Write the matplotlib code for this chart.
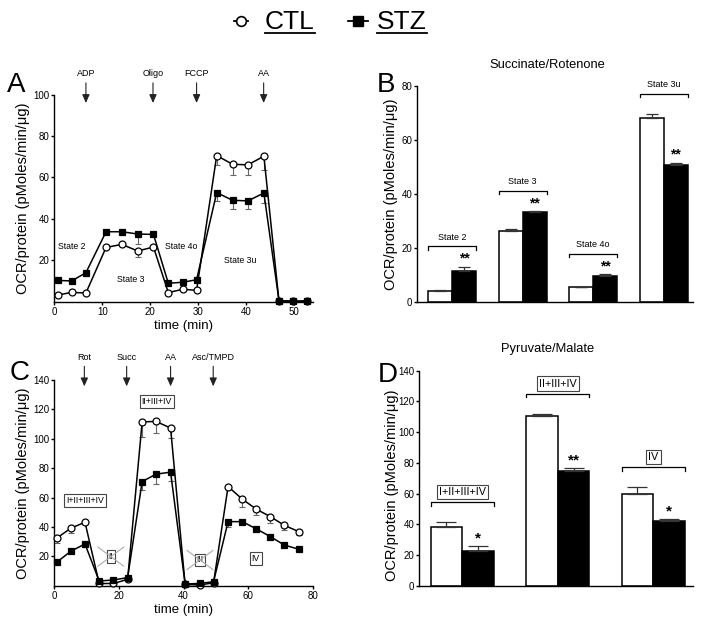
import numpy as np
import matplotlib
matplotlib.use('Agg')
import matplotlib.pyplot as plt
from matplotlib.lines import Line2D

plt.rcParams['font.family'] = ['Liberation Sans', 'DejaVu Sans']

# A: succinate/rotenone time course
a_time = [0.7, 3.6, 6.6, 10.8, 14.1, 17.4, 20.7, 23.8, 26.8, 29.7,
          33.9, 37.2, 40.4, 43.75, 46.9, 49.8, 52.7]
a_ctl = [3.2, 4.5, 4.2, 26.2, 27.7, 24.5, 26.4, 4.4, 6.0, 5.5,
         70.6, 66.4, 66.1, 70.3, 0.3, 0.2, 0.2]
a_ctl_err = [0, 0, 0, 0, 0.5, 3.0, 0, 0, 0, 0, 4.5, 5.0, 5.0, 6.5, 0, 0, 0]
a_stz = [10.3, 10.0, 14.0, 33.8, 33.8, 32.7, 32.5, 8.9, 9.4, 10.6,
         52.7, 49.0, 48.7, 52.5, 0.5, 0.3, 0.4]
a_stz_err = [0, 0, 1.5, 0, 0, 4.7, 0, 0, 0, 0, 4.0, 4.0, 4.0, 5.0, 0, 0, 0]
a_inject = ['ADP', 'Oligo', 'FCCP', 'AA']
a_inject_time = [6.6, 20.6, 29.7, 43.7]

# B: succinate/rotenone states
b_groups = ['State 2', 'State 3', 'State 4o', 'State 3u']
b_ctl = [4.2, 26.5, 5.5, 68.3]
b_ctl_err = [0.2, 0.5, 0.3, 1.2]
b_stz = [11.7, 33.4, 9.85, 50.7]
b_stz_err = [1.5, 0.3, 0.5, 1.0]
b_sig = ['**', '**', '**', '**']

# C: pyruvate/malate time course
c_time = [0.7, 5.1, 9.5, 13.9, 18.3, 22.7, 27.2, 31.5, 36.0, 40.5,
          45.1, 49.3, 53.8, 58.2, 62.6, 66.9, 71.2, 75.7]
c_ctl = [32.3, 39.1, 43.2, 1.5, 1.5, 4.3, 111.5, 111.8, 107.3, 0.9,
         0.5, 2.0, 67.5, 58.9, 52.0, 47.0, 41.1, 36.8]
c_ctl_err = [3, 3.5, 1, 0, 0, 0, 10, 8, 7, 0, 0, 0, 1, 5, 4, 4.5, 3, 2]
c_stz = [15.9, 23.4, 28.4, 3.2, 3.9, 5.5, 70.9, 75.9, 77.3, 1.1,
         1.6, 2.7, 43.6, 43.6, 38.6, 33.4, 27.7, 24.8]
c_stz_err = [0, 0, 0, 0, 0, 0, 6, 6.5, 6, 0, 0, 0, 3.5, 1, 1, 1, 0, 0]
c_inject = ['Rot', 'Succ', 'AA', 'Asc/TMPD']
c_inject_time = [9.3, 22.4, 36.0, 49.2]

# D: pyruvate/malate complexes
d_groups = ['I+II+III+IV', 'II+III+IV', 'IV']
d_ctl = [38.5, 110.4, 59.8]
d_ctl_err = [3.0, 1.6, 4.5]
d_stz = [22.6, 75.0, 42.2]
d_stz_err = [3.5, 1.7, 1.3]
d_sig = ['*', '**', '*']

W, H = 703, 628
fig = plt.figure(figsize=(W / 100, H / 100), dpi=100)
ylab = 'OCR/protein (pMoles/min/\u03bcg)'


def px_axes(left, top, right, bottom):
    return fig.add_axes([left / W, 1 - bottom / H, (right - left) / W, (bottom - top) / H])


def style(ax):
    for s in ['top', 'right']:
        ax.spines[s].set_visible(False)
    for s in ['left', 'bottom']:
        ax.spines[s].set_linewidth(1.0)
    ax.tick_params(direction='out', length=2.5, width=1, labelsize=7, pad=1.2)


def trace(ax, t, y, err, marker, face, size):
    ax.errorbar(t, y, yerr=[err, np.zeros(len(err))], fmt='none', ecolor='#666',
                elinewidth=0.8, capsize=2.2, capthick=0.8, zorder=2)
    ax.plot(t, y, color='black', lw=1.1, marker=marker, ms=size, mfc=face,
            mec='black', mew=0.9, zorder=3, clip_on=False)


def arrows(ax, xs, names, y0, y1, ytxt):
    for x, n in zip(xs, names):
        ax.annotate('', xy=(x, y1), xytext=(x, y0), annotation_clip=False,
                    arrowprops=dict(arrowstyle='-|>,head_length=0.5,head_width=0.22',
                                    color='#222', lw=0.8, shrinkA=0, shrinkB=0))
        ax.text(x, ytxt, n, ha='center', va='center', fontsize=6.5, clip_on=False)


def bars(ax, groups, ctl, ctl_err, stz, stz_err, sig, w, cap, gap, tick,
         lab_gap, boxed, lab_size, star_size):
    x = np.arange(len(groups))
    z = np.zeros(len(groups))
    ekw = dict(elinewidth=0.9, capthick=0.9, ecolor='#333')
    ax.bar(x - w / 2, ctl, w, color='white', edgecolor='black', lw=1.1,
           yerr=[z, ctl_err], capsize=cap, error_kw=ekw)
    ax.bar(x + w / 2, stz, w, color='black', edgecolor='black', lw=1.1,
           yerr=[z, stz_err], capsize=cap, error_kw=ekw)
    for i in range(len(groups)):
        top = max(ctl[i] + ctl_err[i], stz[i] + stz_err[i])
        yb = top + gap
        xl, xr = x[i] - w, x[i] + w
        ax.plot([xl, xl, xr, xr], [yb - tick, yb, yb, yb - tick], color='black',
                lw=0.9, clip_on=False)
        box = dict(boxstyle='square,pad=0.2', fc='white', ec='#444', lw=0.8) if boxed else None
        ax.text(x[i], yb + lab_gap, groups[i], ha='center', va='center',
                fontsize=lab_size, bbox=box, clip_on=False)
        ax.annotate(sig[i], xy=(x[i] + w / 2, stz[i] + stz_err[i]), xytext=(0, 0.5),
                    textcoords='offset points', ha='center', va='bottom',
                    fontsize=star_size, fontweight='bold')
    ax.set_xticks([])


# panel A
ax = px_axes(54.3, 94.7, 313, 301.7)
style(ax)
trace(ax, a_time, a_ctl, a_ctl_err, 'o', 'white', 5)
trace(ax, a_time, a_stz, a_stz_err, 's', 'black', 4.5)
ax.set_xlim(0, 54)
ax.set_ylim(0, 100)
ax.set_xticks(range(0, 51, 10))
ax.set_yticks(range(20, 101, 20))
ax.set_xlabel('time (min)', fontsize=9.5, labelpad=2.5)
ax.set_ylabel(ylab, fontsize=10.5)
ax.yaxis.set_label_coords(-0.094, 0.5)
arrows(ax, a_inject_time, a_inject, 105.7, 96, 110)
for txt, x, y in [('State 2', 3.6, 26.8), ('State 3', 15.9, 10.9),
                  ('State 4o', 26.5, 26.8), ('State 3u', 38.7, 20)]:
    ax.text(x, y, txt, ha='center', va='center', fontsize=6.3)

# panel B
ax = px_axes(417.3, 86, 693.3, 302.3)
style(ax)
bars(ax, b_groups, b_ctl, b_ctl_err, b_stz, b_stz_err, b_sig, 0.34, 4, 7.5, 1.2,
     3.4, False, 6.5, 10)
ax.set_xlim(-0.495, 3.42)
ax.set_ylim(0, 80)
ax.set_yticks(range(0, 81, 20))
ax.set_ylabel(ylab, fontsize=10.5)
ax.yaxis.set_label_coords(-0.07, 0.5)

# panel C
ax = px_axes(54.3, 380, 312.7, 585.7)
style(ax)
trace(ax, c_time, c_ctl, c_ctl_err, 'o', 'white', 5)
trace(ax, c_time, c_stz, c_stz_err, 's', 'black', 4.5)
ax.set_xlim(0, 80)
ax.set_ylim(0, 140)
ax.set_xticks(range(0, 81, 20))
ax.set_yticks(range(20, 141, 20))
ax.set_xlabel('time (min)', fontsize=9.5, labelpad=2.5)
ax.set_ylabel(ylab, fontsize=10.5)
ax.yaxis.set_label_coords(-0.094, 0.5)
arrows(ax, c_inject_time, c_inject, 149.3, 135.7, 155.4)
box = dict(boxstyle='square,pad=0.2', fc='white', ec='#444', lw=0.8)
for txt, x, y, crossed in [('I+II+III+IV', 9.5, 58, False), ('II+III+IV', 31.7, 125.5, False),
                           ('II', 17.5, 19.8, True), ('III', 45.1, 17.5, True),
                           ('IV', 62.4, 18.6, False)]:
    ax.text(x, y, txt, ha='center', va='center', fontsize=6.3, bbox=box, zorder=4)
    if crossed:
        ax.plot([x - 4, x + 4], [y - 6.5, y + 6.5], color='#aaa', lw=0.8, zorder=5)
        ax.plot([x - 4, x + 4], [y + 6.5, y - 6.5], color='#aaa', lw=0.8, zorder=5)

# panel D
ax = px_axes(419.3, 370.7, 693, 586)
style(ax)
bars(ax, d_groups, d_ctl, d_ctl_err, d_stz, d_stz_err, d_sig, 0.332, 7, 13, 2.2,
     6.6, True, 7.8, 11)
ax.set_xlim(-0.45, 2.416)
ax.set_ylim(0, 140)
ax.set_yticks(range(0, 141, 20))
ax.set_ylabel(ylab, fontsize=10.5)
ax.yaxis.set_label_coords(-0.074, 0.47)

# titles and panel letters
fig.text(547 / W, 1 - 65 / H, 'Succinate/Rotenone', ha='center', va='center', fontsize=9.3)
fig.text(547.5 / W, 1 - 349.3 / H, 'Pyruvate/Malate', ha='center', va='center', fontsize=9.3)
for letter, x, y in [('A', 7, 92), ('B', 377, 92), ('C', 10, 380), ('D', 378, 382)]:
    fig.text(x / W, 1 - y / H, letter, ha='left', va='baseline', fontsize=20)

# legend at the top
fig.add_artist(Line2D([234 / W, 248 / W], [1 - 20.5 / H] * 2, color='black', lw=1.3))
fig.add_artist(Line2D([241 / W], [1 - 20.5 / H], marker='o', ms=7, mfc='white',
                      mec='black', mew=1.2))
fig.add_artist(Line2D([347.7 / W, 368.3 / W], [1 - 20.5 / H] * 2, color='black', lw=1.3))
fig.add_artist(Line2D([358.3 / W], [1 - 20.5 / H], marker='s', ms=6.5, mfc='black',
                      mec='black'))
labels = [fig.text(265 / W, 1 - 29.3 / H, 'CTL', fontsize=19, va='baseline'),
          fig.text(377 / W, 1 - 29.3 / H, 'STZ', fontsize=19, va='baseline')]
fig.canvas.draw()
for t in labels:
    bb = t.get_window_extent()
    fig.add_artist(Line2D([bb.x0 / W, bb.x1 / W], [1 - 33.3 / H] * 2, color='black', lw=1.3))

fig.savefig('out.png', dpi=100)
